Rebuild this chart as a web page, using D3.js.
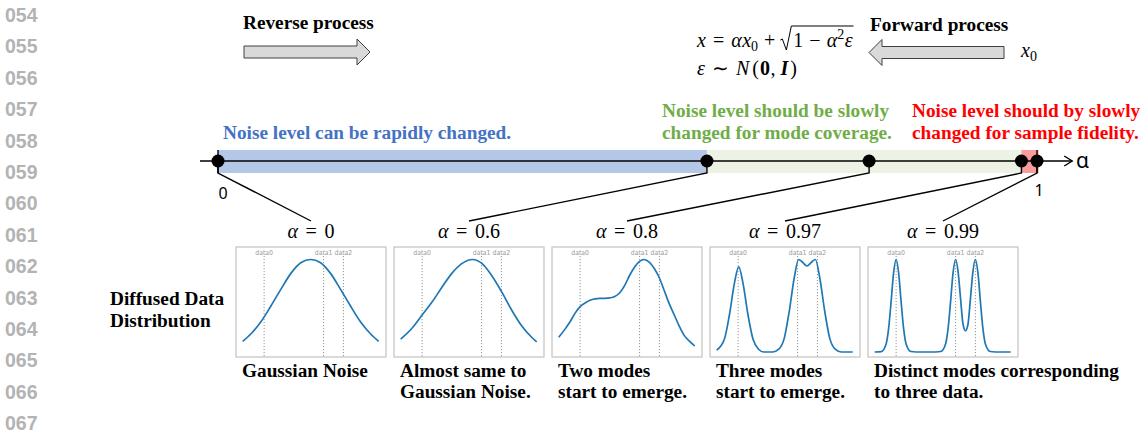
<!DOCTYPE html>
<html lang="en">
<head>
    <meta charset="utf-8"/>
    <title>Diffused data distribution vs noise level</title>
    <script src="https://d3js.org/d3.v7.min.js"></script>
    <style>
        body { margin: 0; background: #fff; }
    </style>
</head>
<body>
<script>
    // ---- data ----
    const lineNumbers = ["054", "055", "056", "057", "058", "059", "060", "061", "062", "063", "064", "065", "066", "067"];

    // alpha of each panel and where its dot sits on the alpha axis (the axis is schematic)
    const alphaLabels = ["0", "0.6", "0.8", "0.97", "0.99"];
    const markerPos = [0, 0.597, 0.795, 0.981, 1.0];

    // shaded regions on the axis
    const bandFrom = [0, 0.597, 0.981];
    const bandTo = [0.597, 0.981, 1.002];

    const bandText = [
        ["Noise level can be rapidly changed."],
        ["Noise level should be slowly", "changed for mode coverage."],
        ["Noise level should by slowly", "changed for sample fidelity."]
    ];

    // positions of the three data points inside each small plot
    const dataNames = ["data0", "data1", "data2"];
    const dataX = [0, 3, 4];

    // density curves (x, normalised height), one pair of arrays per panel
    const x0 = [-1.08, -0.65, -0.15, 0.35, 0.85, 1.35, 1.85, 2.35, 2.85, 3.35, 3.85, 4.35, 4.85, 5.35, 5.78];
    const y0 = [0.115, 0.2, 0.33, 0.5, 0.68, 0.85, 0.965, 1.0, 0.965, 0.85, 0.68, 0.5, 0.33, 0.2, 0.115];

    const x06 = [-1.08, -0.5, 0, 0.5, 1, 1.5, 2, 2.55, 3, 3.5, 4, 4.5, 5, 5.5, 5.78];
    const y06 = [0.14, 0.26, 0.40, 0.54, 0.70, 0.85, 0.955, 1.0, 0.96, 0.83, 0.655, 0.46, 0.29, 0.165, 0.11];

    const x08 = [-1.08, -0.75, -0.5, -0.25, 0, 0.25, 0.5, 0.75, 1, 1.25, 1.5, 1.75, 2, 2.25, 2.5, 2.75, 3, 3.2, 3.5, 3.75, 4, 4.25, 4.5, 4.75, 5, 5.25, 5.5, 5.78];
    const y08 = [0.16, 0.25, 0.33, 0.42, 0.49, 0.53, 0.56, 0.575, 0.58, 0.58, 0.585, 0.6, 0.64, 0.72, 0.83, 0.92, 0.98, 1.0, 0.97, 0.9, 0.8, 0.66, 0.52, 0.4, 0.28, 0.18, 0.12, 0.065];

    const x097 = [-1.08, -0.69, -0.44, -0.19, 0.03, 0.25, 0.5, 0.75, 1.03, 1.3, 1.75, 2.05, 2.33, 2.58, 2.83, 3.05, 3.25, 3.47, 3.7, 3.9, 4.12, 4.37, 4.62, 4.9, 5.2, 5.78];
    const y097 = [0.02, 0.14, 0.40, 0.74, 0.92, 0.74, 0.40, 0.14, 0.03, 0.0, 0.0, 0.03, 0.15, 0.44, 0.80, 1.0, 0.97, 0.93, 0.97, 1.0, 0.80, 0.44, 0.15, 0.03, 0.0, 0.0];

    const x099 = [-1.08, -0.75, -0.5, -0.375, -0.25, -0.125, 0, 0.125, 0.25, 0.375, 0.5, 0.75, 1.0, 2.0, 2.25, 2.5, 2.625, 2.75, 2.875, 3, 3.125, 3.25, 3.375, 3.5, 3.625, 3.75, 3.875, 4, 4.125, 4.25, 4.375, 4.5, 4.75, 5.0, 5.78];
    const y099 = [0, 0.005, 0.09, 0.26, 0.55, 0.86, 1.0, 0.86, 0.55, 0.26, 0.09, 0.005, 0, 0, 0.005, 0.09, 0.26, 0.55, 0.86, 1.0, 0.87, 0.58, 0.30, 0.23, 0.30, 0.58, 0.87, 1.0, 0.86, 0.55, 0.26, 0.09, 0.005, 0, 0];

    const curvesX = [x0, x06, x08, x097, x099];
    const curvesY = [y0, y06, y08, y097, y099];

    const captions = [
        ["Gaussian Noise"],
        ["Almost same to", "Gaussian Noise."],
        ["Two modes", "start to emerge."],
        ["Three modes", "start to emerge."],
        ["Distinct modes corresponding", "to three data."]
    ];

    // ---- styling ----
    const serif = "'Liberation Serif', 'Times New Roman', serif";
    const sans = "'Liberation Sans', Arial, sans-serif";
    const boldSize = "19.3px";
    const bandFill = ["#b4c7e7", "#ecf3e5", "#f79c9c"];
    const bandInk = ["#4472c4", "#70ad47", "#ff0000"];
    const blue = "#1f77b4";

    const svg = d3.select("body").append("svg")
        .attr("width", 1145)
        .attr("height", 437);

    // line numbers in the page margin
    svg.selectAll("text.ln")
        .data(lineNumbers)
        .enter()
        .append("text")
        .attr("class", "ln")
        .attr("x", 5)
        .attr("y", (d, i) => 22 + i * 31.4)
        .style("font-family", sans)
        .style("font-weight", "bold")
        .style("font-size", "19.5px")
        .style("fill", "#b3b3b3")
        .text(d => d);

    function boldText(x, y, s, color) {
        return svg.append("text").attr("x", x).attr("y", y)
            .style("font-family", serif).style("font-weight", "bold").style("font-size", boldSize)
            .style("fill", color || "#000")
            .text(s);
    }

    // ---- top: reverse / forward process ----
    boldText(243, 28.5, "Reverse process");
    boldText(870, 30.5, "Forward process");

    // block arrow: tail x, tip x, centre y
    function blockArrow(tail, tip, cy) {
        const dir = Math.sign(tip - tail);
        const head = tip - dir * 13;
        const p = d3.path();
        p.moveTo(tail, cy - 6);
        p.lineTo(head, cy - 6);
        p.lineTo(head, cy - 13);
        p.lineTo(tip, cy);
        p.lineTo(head, cy + 13);
        p.lineTo(head, cy + 6);
        p.lineTo(tail, cy + 6);
        p.closePath();
        svg.append("path").attr("d", p.toString())
            .attr("fill", "#d9d9d9").attr("stroke", "#404040").attr("stroke-width", 1);
    }
    blockArrow(244, 370, 52);
    blockArrow(1004, 869, 52.5);

    // math laid out piece by piece, returns the x where it ended
    function mathRow(parent, x, y, pieces) {
        let cx = x;
        pieces.forEach(p => {
            const t = parent.append("text")
                .attr("x", cx)
                .attr("y", y + (p.dy || 0))
                .style("font-family", serif)
                .style("font-size", (p.size || 20) + "px")
                .style("font-style", p.it ? "italic" : "normal")
                .style("font-weight", p.b ? "bold" : "normal")
                .text(p.t);
            cx += t.node().getComputedTextLength() + (p.gap || 0);
        });
        return cx;
    }

    let mx = mathRow(svg, 697, 46.5, [
        {t: "x", it: true, gap: 7},
        {t: "=", gap: 7},
        {t: "α", it: true, gap: 0.5},
        {t: "x", it: true},
        {t: "0", size: 14, dy: 4, gap: 6},
        {t: "+", gap: 5}
    ]);
    // radical sign
    const rad = d3.path();
    rad.moveTo(mx, 40);
    rad.lineTo(mx + 2, 39);
    rad.lineTo(mx + 6, 50);
    rad.lineTo(mx + 11, 26);
    svg.append("path").attr("d", rad.toString()).attr("fill", "none").attr("stroke", "#000").attr("stroke-width", 1);
    const radStart = mx + 11;
    mx = mathRow(svg, radStart + 2, 46.5, [
        {t: "1", gap: 6},
        {t: "−", gap: 6},
        {t: "α", it: true},
        {t: "2", size: 14, dy: -8, gap: 0.5},
        {t: "ε", it: true}
    ]);
    svg.append("line").attr("x1", radStart).attr("x2", mx + 1).attr("y1", 26).attr("y2", 26)
        .attr("stroke", "#000").attr("stroke-width", 1);

    mathRow(svg, 697, 75, [
        {t: "ε", it: true, gap: 7},
        {t: "∼", gap: 7},
        {t: "N", it: true, gap: 3},
        {t: "(", gap: 1},
        {t: "0", b: true, gap: 0.5},
        {t: ",", gap: 5},
        {t: "I", it: true, b: true, gap: 2},
        {t: ")"}
    ]);
    mathRow(svg, 1021, 57, [
        {t: "x", it: true},
        {t: "0", size: 14, dy: 4}
    ]);

    // ---- the alpha axis ----
    const ax = d3.scaleLinear().domain([0, 1]).range([218, 1037]);
    const axisY = 161;

    svg.selectAll("rect.band")
        .data(bandFrom)
        .enter()
        .append("rect")
        .attr("class", "band")
        .attr("x", d => ax(d))
        .attr("width", (d, i) => ax(bandTo[i]) - ax(d))
        .attr("y", 150)
        .attr("height", 23)
        .attr("fill", (d, i) => bandFill[i]);

    // coloured notes above the bands
    const noteX = [223, 662, 912];
    bandText.forEach((lines, i) => {
        const baseY = lines.length === 1 ? 139 : 117;
        lines.forEach((s, j) => boldText(noteX[i], baseY + j * 22, s, bandInk[i]));
    });

    svg.append("line")
        .attr("x1", ax(-0.022)).attr("x2", ax(1.043))
        .attr("y1", axisY).attr("y2", axisY)
        .attr("stroke", "#000").attr("stroke-width", 1.4);
    svg.append("path")
        .attr("d", `M${ax(1.043) - 8},${axisY - 5}L${ax(1.043)},${axisY}L${ax(1.043) - 8},${axisY + 5}`)
        .attr("fill", "none").attr("stroke", "#000").attr("stroke-width", 1.4);
    svg.append("text").attr("x", 1076).attr("y", 168)
        .style("font-family", "'Noto Sans', sans-serif").style("font-size", "21px")
        .text("α");

    // end ticks 0 and 1
    [0, 1].forEach(v => {
        svg.append("line").attr("x1", ax(v)).attr("x2", ax(v)).attr("y1", 150).attr("y2", 173)
            .attr("stroke", "#000").attr("stroke-width", 1.4);
    });
    svg.append("text").attr("x", ax(0) + 5).attr("y", 199).attr("text-anchor", "middle")
        .style("font-family", "'Noto Sans', sans-serif").style("font-size", "16px").text("0");
    svg.append("text").attr("x", ax(1) + 2).attr("y", 196).attr("text-anchor", "middle")
        .style("font-family", "'Noto Sans', sans-serif").style("font-size", "16px").text("1");

    // panels are spread evenly below the axis
    const panelX = d3.scalePoint().domain(alphaLabels).range([311, 943]);
    const panelTop = 247, panelW = 150, panelH = 110;

    // connectors from each dot to its panel
    svg.selectAll("path.conn")
        .data(markerPos)
        .enter()
        .append("path")
        .attr("class", "conn")
        .attr("d", (d, i) => `M${ax(d)},${axisY}L${ax(d)},173L${panelX(alphaLabels[i])},221`)
        .attr("fill", "none").attr("stroke", "#000").attr("stroke-width", 1.4);

    svg.selectAll("circle.dot")
        .data(markerPos)
        .enter()
        .append("circle")
        .attr("class", "dot")
        .attr("cx", d => ax(d))
        .attr("cy", axisY)
        .attr("r", 6.5)
        .attr("fill", "#000");

    // ---- small density plots ----
    const px = d3.scaleLinear().domain([-1.08, 5.78]).range([6.7, 142.7]);
    const py = d3.scaleLinear().domain([0, 1]).range([105, 12.5]);
    const curve = d3.line()
        .x(d => px(d[0]))
        .y(d => py(d[1]))
        .curve(d3.curveMonotoneX);

    alphaLabels.forEach((a, i) => {
        const cx = panelX(a);

        // "α = a", laid out then centred over the panel
        const lab = svg.append("g");
        const w = mathRow(lab, 0, 238, [
            {t: "α", it: true, gap: 7.5},
            {t: "=", gap: 7.5},
            {t: a}
        ]);
        lab.attr("transform", `translate(${cx - w / 2},0)`);

        const g = svg.append("g").attr("transform", `translate(${cx - panelW / 2},${panelTop})`);
        g.append("rect")
            .attr("width", panelW).attr("height", panelH)
            .attr("fill", "#fff").attr("stroke", "#c2c2c2").attr("stroke-width", 1.2);

        g.selectAll("line.dl")
            .data(dataX)
            .enter()
            .append("line")
            .attr("x1", d => px(d)).attr("x2", d => px(d))
            .attr("y1", 9).attr("y2", panelH)
            .attr("stroke", "#8a8a8a").attr("stroke-width", 0.9)
            .attr("stroke-dasharray", "1.2,1.8");
        g.selectAll("text.dn")
            .data(dataX)
            .enter()
            .append("text")
            .attr("x", d => px(d)).attr("y", 7.8).attr("text-anchor", "middle")
            .style("font-family", "'DejaVu Sans Condensed', 'DejaVu Sans', sans-serif").style("font-size", "6.8px")
            .style("fill", "#999")
            .text((d, k) => dataNames[k]);

        g.append("path")
            .datum(d3.zip(curvesX[i], curvesY[i]))
            .attr("d", curve)
            .attr("fill", "none")
            .attr("stroke", blue)
            .attr("stroke-width", 1.7);

        captions[i].forEach((s, j) => boldText(cx - 69, 377 + j * 21, s));
    });

    // row label on the left
    ["Diffused Data", "Distribution"].forEach((s, j) => boldText(110, 304.5 + j * 22.5, s));
</script>
</body>
</html>
